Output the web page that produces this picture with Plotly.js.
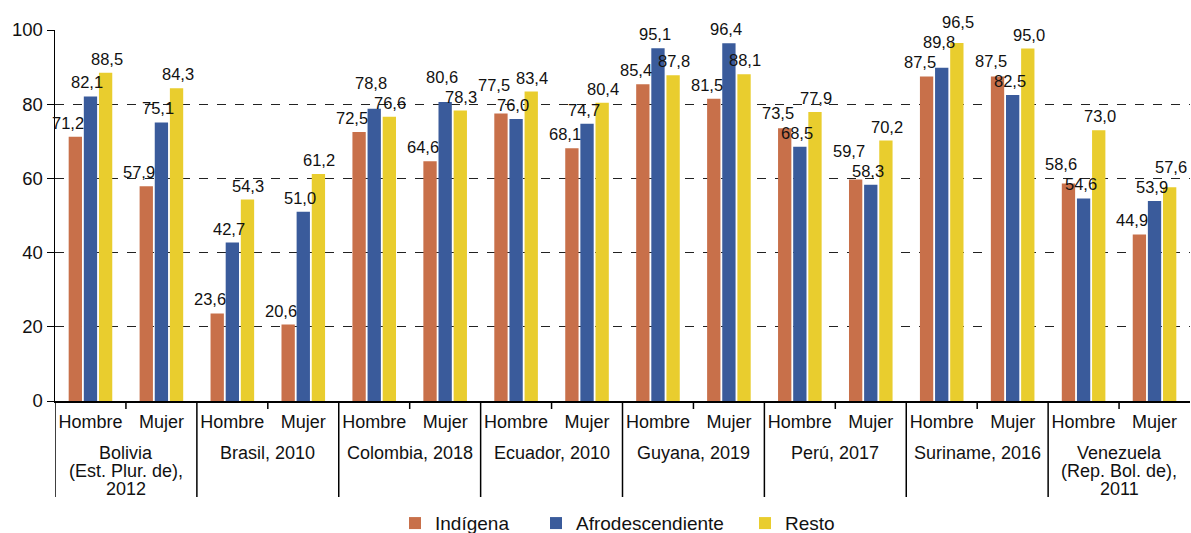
<!DOCTYPE html>
<html>
<head>
<meta charset="utf-8">
<script src="https://cdn.plot.ly/plotly-3.0.1.min.js"></script>
<style>html,body{margin:0;padding:0;background:#fff}#chart{width:1191px;height:533px}</style>
</head>
<body>
<div id="chart"></div>
<script>
const countries = ["Bolivia<br>(Est. Plur. de),<br>2012", "Brasil, 2010", "Colombia, 2018", "Ecuador, 2010", "Guyana, 2019", "Perú, 2017", "Suriname, 2016", "Venezuela<br>(Rep. Bol. de),<br>2011"];
const sexes = ["Hombre", "Mujer"];
const indigena =         [71.2, 57.9, 23.6, 20.6, 72.5, 64.6, 77.5, 68.1, 85.4, 81.5, 73.5, 59.7, 87.5, 87.5, 58.6, 44.9];
const afrodescendiente = [82.1, 75.1, 42.7, 51.0, 78.8, 80.6, 76.0, 74.7, 95.1, 96.4, 68.5, 58.3, 89.8, 82.5, 54.6, 53.9];
const resto =            [88.5, 84.3, 54.3, 61.2, 76.6, 78.3, 83.4, 80.4, 87.8, 88.1, 77.9, 70.2, 96.5, 95.0, 73.0, 57.6];
const seriesNames = ["Indígena", "Afrodescendiente", "Resto"];
const colors = ["#C8704A", "#3A5B9B", "#E9CD2E"];

const font = "Liberation Sans, Arial, Helvetica, sans-serif";
const series = [indigena, afrodescendiente, resto];
const nCat = indigena.length;
const xIdx = indigena.map((_, i) => i);
const tickText = xIdx.map(i => sexes[i % sexes.length]);
const BARGAP = 0.36;
const legendWidths = [96, 164, 60];

const data = series.map((vals, i) => ({
  type: "bar",
  name: seriesNames[i],
  x: xIdx,
  y: vals,
  legendwidth: legendWidths[i],
  marker: {color: colors[i], line: {width: 0}},
  hoverinfo: "skip"
}));

// structural shapes: short ticks between Hombre/Mujer, long dividers between countries
const shapes = [];
countries.forEach((c, j) => {
  shapes.push({type: "line", xref: "x", yref: "paper", ysizemode: "pixel", yanchor: 0,
    x0: 2 * j - 0.5, x1: 2 * j - 0.5, y0: 0, y1: -96, line: {color: "#000", width: 1.5}});
  shapes.push({type: "line", xref: "x", yref: "paper", ysizemode: "pixel", yanchor: 0,
    x0: 2 * j + 0.5, x1: 2 * j + 0.5, y0: 0, y1: -8, line: {color: "#000", width: 1.5}});
});

// country labels, one annotation per line
const countryAnns = [];
countries.forEach((c, j) => {
  c.split("<br>").forEach((line, k) => {
    countryAnns.push({xref: "x", yref: "paper", x: 2 * j + 0.5, y: 0, yanchor: "middle", xanchor: "center",
      yshift: -(52 + 18 * k), text: line, showarrow: false,
      font: {family: font, size: 18, color: "#111"}});
  });
});

const layout = {
  width: 1191, height: 533,
  margin: {l: 55, r: 1, t: 30, b: 132},
  paper_bgcolor: "#fff", plot_bgcolor: "#fff",
  font: {family: font, size: 18, color: "#111"},
  barmode: "group",
  bargap: BARGAP,
  bargroupgap: 0.12,
  showlegend: true,
  legend: {orientation: "h", x: 0.5, xanchor: "center", yref: "container", y: 0.054, yanchor: "top",
           font: {family: font, size: 19, color: "#111"}, traceorder: "normal", itemwidth: 30},
  xaxis: {
    range: [-0.5, nCat - 0.5],
    tickmode: "array", tickvals: xIdx, ticktext: tickText, tickangle: 0,
    showline: true, linecolor: "#000", linewidth: 1.5,
    ticks: "outside", ticklen: 4, tickcolor: "rgba(0,0,0,0)",
    tickfont: {family: font, size: 18, color: "#111"},
    showgrid: false, zeroline: false, fixedrange: true
  },
  yaxis: {
    range: [0, 100], dtick: 20,
    showline: true, linecolor: "#000", linewidth: 1.5,
    ticks: "outside", ticklen: 7, tickcolor: "#000",
    showgrid: true, gridcolor: "#222", griddash: "dash", gridwidth: 1,
    zeroline: false,
    tickfont: {family: font, size: 18.5, color: "#111"}
  },
  shapes: shapes,
  annotations: countryAnns,
  separators: ",."
};

const gd = document.getElementById("chart");
Plotly.newPlot(gd, data, layout, {displayModeBar: false, staticPlot: true}).then(() => {
  const ya = gd._fullLayout.yaxis, xa = gd._fullLayout.xaxis;
  const pxPerUnit = ya._length / 100;
  const catW = xa._length / nCat;
  const LABEL_H = 20, LABEL_W = 30, PAD = 6;
  const slot = (1 - BARGAP) / 3;
  const nudges = [-7, -3, 1];
  const anns = countryAnns.slice();
  for (let i = 0; i < nCat; i++) {
    const boxes = series.map((vals, k) => ({k, v: vals[i], bottom: vals[i] * pxPerUnit + PAD,
      cx: (k - 1) * slot * catW + nudges[k]}));
    const resolve = (a, b) => {
      const hov = Math.abs(a.cx - b.cx) < LABEL_W;
      const vov = Math.abs(a.bottom - b.bottom) < LABEL_H;
      if (hov && vov) {
        const [hi, lo] = a.v >= b.v ? [a, b] : [b, a];
        hi.bottom = lo.bottom + LABEL_H;
      }
    };
    resolve(boxes[1], boxes[2]);
    resolve(boxes[0], boxes[1]);
    resolve(boxes[1], boxes[2]);
    boxes.forEach(b => {
      anns.push({
        xref: "x", yref: "y",
        x: i + (b.k - 1) * slot, y: b.v,
        text: b.v.toFixed(1).replace(".", ","),
        showarrow: false, xanchor: "center", yanchor: "bottom",
        xshift: nudges[b.k], yshift: b.bottom - b.v * pxPerUnit - 3,
        font: {family: font, size: 16.5, color: "#111"}
      });
    });
  }
  return Plotly.relayout(gd, {annotations: anns});
});
</script>
</body>
</html>
